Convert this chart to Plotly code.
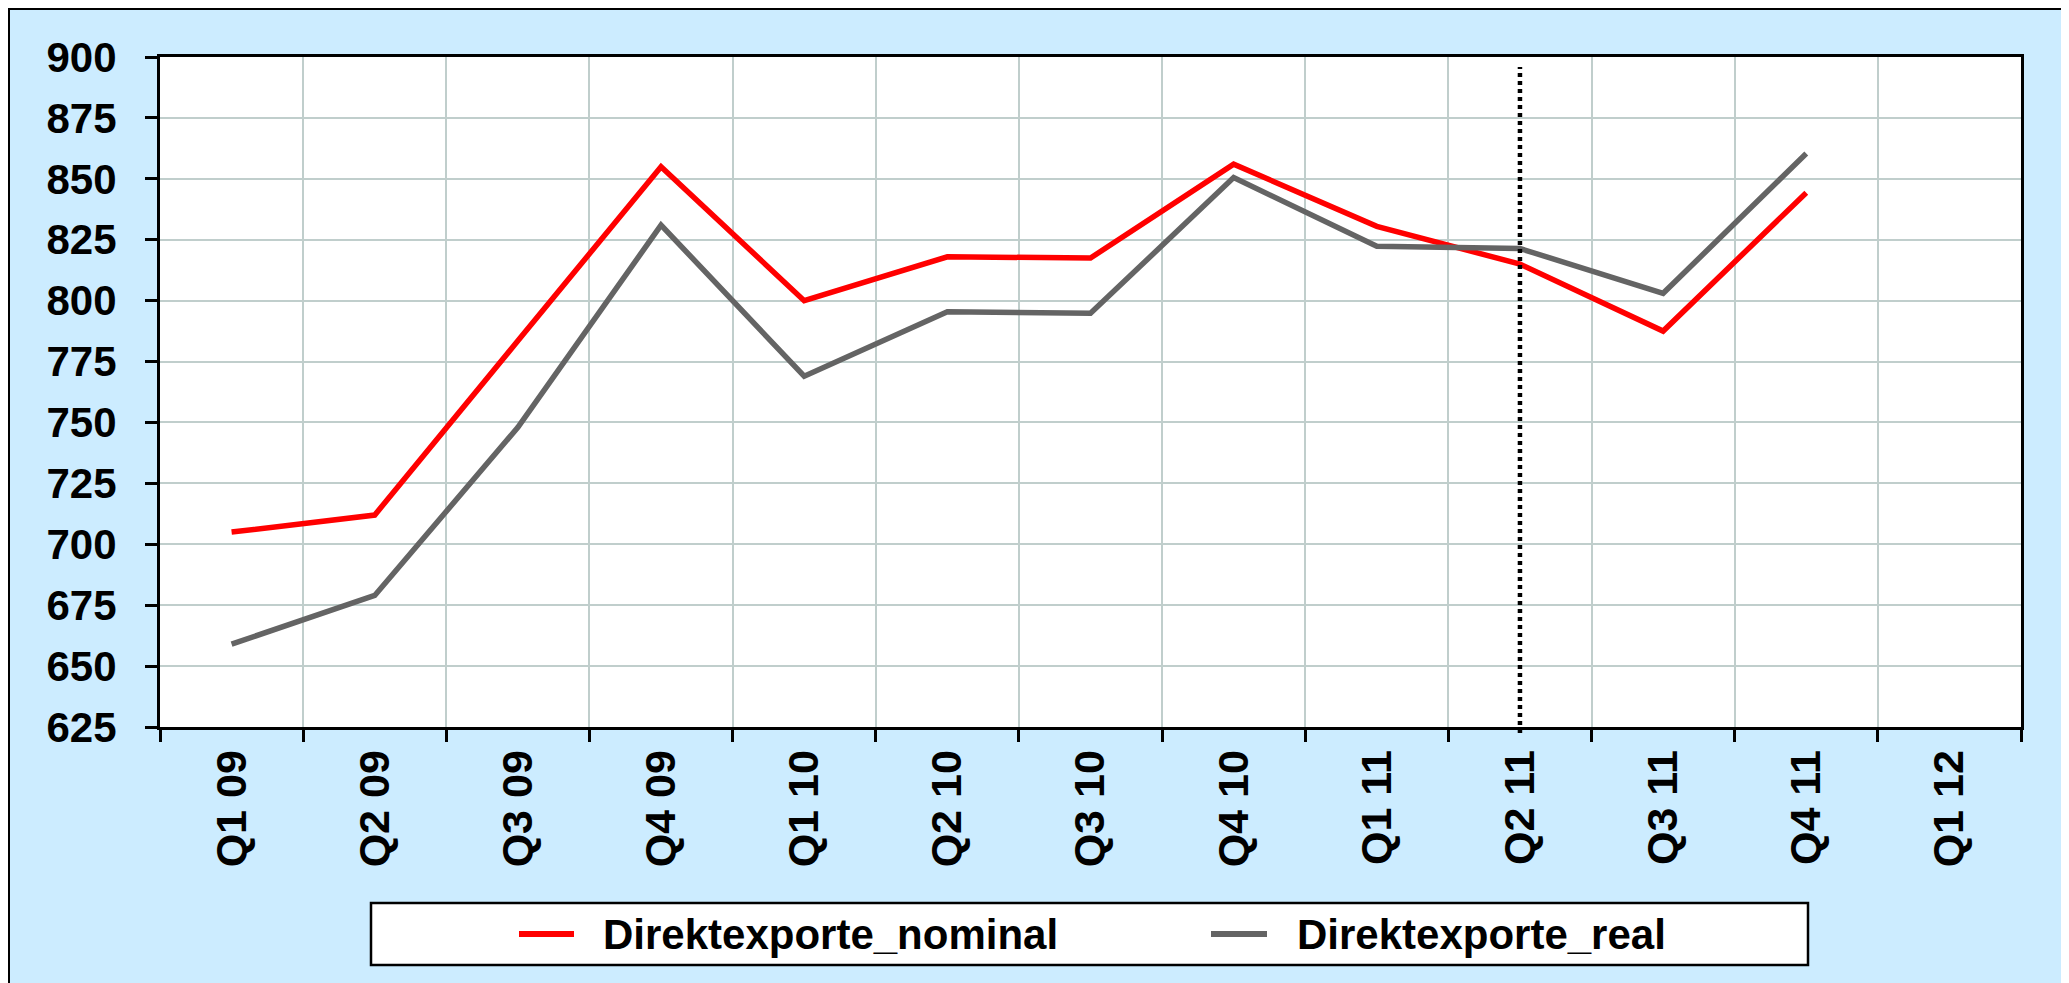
import plotly.graph_objects as go

categories = ["Q1 09", "Q2 09", "Q3 09", "Q4 09", "Q1 10", "Q2 10", "Q3 10",
              "Q4 10", "Q1 11", "Q2 11", "Q3 11", "Q4 11", "Q1 12"]
nominal = [705, 712, 783.5, 855, 800, 818, 817.5, 856, 830.5, 815, 787.5, 844.3, None]
real = [659, 679, 748, 831, 769, 795.4, 794.8, 850.5, 822.3, 821.4, 803, 860.4, None]
series_names = ["Direktexporte_nominal", "Direktexporte_real"]
series_colors = ["#FF0000", "#646464"]
marker_category = "Q2 11"
y_ticks = list(range(625, 901, 25))

# browser body margin offsets the figure by 8px
OFF = 8
SW, SH = 2069, 983
W, H = SW - OFF, SH - OFF
# plot area in screen pixels
L, R, T, B = 160, 2021, 57, 727
FONT = "Liberation Sans, Arial, sans-serif"


def px(x):
    return (x - L) / (R - L)


def py(y):
    return (B - y) / (B - T)


fig = go.Figure()
for name, vals, col in zip(series_names, [nominal, real], series_colors):
    fig.add_trace(go.Scatter(x=categories, y=vals, mode="lines", name=name,
                             line=dict(color=col, width=5.5), showlegend=False))

grid = "#C0CECC"
fig.update_xaxes(type="category", categoryorder="array", categoryarray=categories,
                 range=[-0.5, len(categories) - 0.5],
                 tickson="boundaries", ticks="outside", ticklen=12, tickwidth=3,
                 tickcolor="black", showgrid=True, gridcolor=grid, gridwidth=1.5,
                 showline=True, linecolor="black", linewidth=3, mirror=True,
                 tickangle=-90, ticklabelstandoff=3,
                 tickfont=dict(family=FONT, size=43, color="black", weight="bold"))
fig.update_yaxes(range=[625, 900], tickvals=y_ticks, ticks="outside", ticklen=12,
                 tickwidth=3, tickcolor="black", showgrid=True, gridcolor=grid,
                 gridwidth=1.5, showline=True, linecolor="black", linewidth=3,
                 mirror=True, zeroline=False, ticklabelstandoff=20,
                 tickfont=dict(family=FONT, size=42, color="black", weight="bold"))

shapes = []
# outer chart frame (light blue chart area)
shapes.append(dict(type="rect", xref="paper", yref="paper", layer="below",
                   x0=px(9), x1=px(2065), y0=py(990), y1=py(9),
                   fillcolor="#CCECFF", line=dict(color="black", width=2)))
# white plot area
shapes.append(dict(type="rect", xref="x domain", yref="y domain", layer="below",
                   x0=0, x1=1, y0=0, y1=1, fillcolor="white",
                   line=dict(width=0)))
# vertical dotted marker
shapes.append(dict(type="line", xref="x", yref="paper", x0=marker_category,
                   x1=marker_category, y0=py(733), y1=py(67),
                   line=dict(color="black", width=4.5, dash="4px,4px")))
# legend box
shapes.append(dict(type="rect", xref="paper", yref="paper",
                   x0=px(371), x1=px(1808), y0=py(965), y1=py(903),
                   fillcolor="white", line=dict(color="black", width=2.5)))
leg_items = [(519, 574, 601), (1211, 1267, 1295)]
ann = []
for (s0, s1, tx), name, col in zip(leg_items, series_names, series_colors):
    shapes.append(dict(type="line", xref="paper", yref="paper",
                       x0=px(s0), x1=px(s1), y0=py(934), y1=py(934),
                       line=dict(color=col, width=6)))
    ann.append(dict(text=name, xref="paper", yref="paper", x=px(tx), y=py(934),
                    xanchor="left", yanchor="middle", showarrow=False,
                    font=dict(family=FONT, size=42, color="black", weight="bold")))

fig.update_layout(width=W, height=H,
                  margin=dict(l=L - OFF, r=W - (R - OFF), t=T - OFF, b=H - (B - OFF)),
                  paper_bgcolor="white", plot_bgcolor="white",
                  shapes=shapes, annotations=ann, showlegend=False)

fig.write_html("out.html")
